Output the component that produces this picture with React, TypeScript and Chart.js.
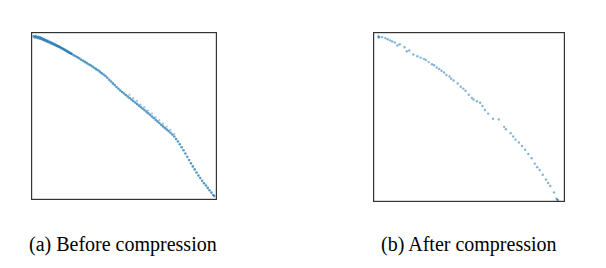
import React, { useEffect, useRef } from "react";
import { Chart, registerables } from "chart.js";

Chart.register(...registerables);

// Panel (a): before compression — normalized objective values (x, y)
const beforeX: number[] = [
  0.015, 0.02, 0.025, 0.03, 0.035, 0.04, 0.045, 0.05, 0.055, 0.06, 0.065, 0.07, 0.075, 0.08, 0.085, 0.09, 0.095, 0.1,
  0.105, 0.11, 0.115, 0.12, 0.125, 0.13, 0.135, 0.14, 0.145, 0.15, 0.155, 0.16, 0.165, 0.17, 0.175, 0.18, 0.185, 0.19,
  0.195, 0.2, 0.205, 0.21, 0.215, 0.22, 0.23, 0.24, 0.25, 0.26, 0.27, 0.28, 0.29, 0.3, 0.31, 0.32, 0.33, 0.34, 0.35,
  0.36, 0.37, 0.38, 0.39, 0.4, 0.41, 0.42, 0.43, 0.44, 0.45, 0.46, 0.47, 0.48, 0.49, 0.5, 0.51, 0.52, 0.53, 0.54, 0.55,
  0.56, 0.57, 0.58, 0.59, 0.6, 0.61, 0.62, 0.63, 0.64, 0.65, 0.66, 0.67, 0.68, 0.69, 0.7, 0.71, 0.72, 0.73, 0.74, 0.75,
  0.76, 0.77, 0.78, 0.79, 0.8, 0.81, 0.82, 0.83, 0.84, 0.85, 0.86, 0.87, 0.88, 0.89, 0.9, 0.91, 0.92, 0.93, 0.94, 0.95,
  0.96, 0.97, 0.98, 0.985,
];
const beforeY: number[] = [
  0.975, 0.968, 0.976, 0.97, 0.964, 0.972, 0.962, 0.968, 0.958, 0.963, 0.953, 0.958, 0.948, 0.952, 0.944, 0.947, 0.939,
  0.942, 0.934, 0.937, 0.929, 0.931, 0.924, 0.926, 0.919, 0.92, 0.914, 0.915, 0.909, 0.908, 0.903, 0.902, 0.897, 0.895,
  0.89, 0.889, 0.884, 0.882, 0.877, 0.876, 0.871, 0.869, 0.862, 0.856, 0.849, 0.843, 0.835, 0.829, 0.822, 0.815, 0.808,
  0.802, 0.795, 0.787, 0.779, 0.772, 0.764, 0.755, 0.747, 0.738, 0.728, 0.716, 0.705, 0.694, 0.684, 0.673, 0.662, 0.652,
  0.643, 0.634, 0.625, 0.616, 0.607, 0.598, 0.589, 0.58, 0.571, 0.562, 0.553, 0.544, 0.535, 0.526, 0.516, 0.507, 0.497,
  0.488, 0.478, 0.468, 0.458, 0.448, 0.438, 0.428, 0.419, 0.41, 0.4, 0.39, 0.378, 0.363, 0.348, 0.332, 0.314, 0.296,
  0.277, 0.257, 0.238, 0.219, 0.2, 0.182, 0.164, 0.146, 0.131, 0.115, 0.1, 0.086, 0.072, 0.058, 0.044, 0.03, 0.024,
];
// faint scattered points just above the main front in panel (a)
const beforeSpreadX: number[] = [0.53, 0.55, 0.57, 0.59, 0.61, 0.63, 0.65, 0.67, 0.69, 0.71, 0.73, 0.75, 0.77];
const beforeSpreadY: number[] = [0.627, 0.606, 0.59, 0.568, 0.553, 0.532, 0.515, 0.493, 0.476, 0.455, 0.437, 0.418, 0.393];

// Panel (b): after compression
const afterX: number[] = [
  0.028, 0.032, 0.03, 0.047, 0.064, 0.089, 0.114, 0.139, 0.164, 0.189, 0.231, 0.248, 0.265, 0.29, 0.307, 0.332, 0.357,
  0.382, 0.399, 0.407, 0.441, 0.457, 0.482, 0.499, 0.524, 0.541, 0.558, 0.583, 0.625, 0.655, 0.683, 0.692, 0.717, 0.742,
  0.776, 0.792, 0.809, 0.826, 0.843, 0.868, 0.884, 0.901, 0.923, 0.943, 0.956, 0.963, 0.96,
  0.076, 0.1, 0.127, 0.176, 0.21, 0.275, 0.318, 0.345, 0.37, 0.42, 0.47, 0.515, 0.57, 0.6, 0.73, 0.76, 0.855, 0.912,
];
const afterY: number[] = [
  0.975, 0.97, 0.968, 0.97, 0.964, 0.951, 0.938, 0.928, 0.91, 0.891, 0.857, 0.849, 0.842, 0.823, 0.81, 0.791, 0.772,
  0.747, 0.738, 0.725, 0.697, 0.678, 0.654, 0.631, 0.603, 0.593, 0.584, 0.541, 0.49, 0.486, 0.442, 0.428, 0.405, 0.367,
  0.329, 0.307, 0.282, 0.258, 0.226, 0.188, 0.16, 0.132, 0.094, 0.056, 0.019, 0.01, 0.014,
  0.957, 0.944, 0.921, 0.887, 0.868, 0.835, 0.804, 0.783, 0.762, 0.715, 0.667, 0.612, 0.565, 0.52, 0.385, 0.35, 0.205, 0.112,
];

const captions: string[] = ["(a) Before compression", "(b) After compression"];

const framePlugin = {
  id: "frame",
  afterDraw(chart: any) {
    const { ctx, chartArea } = chart;
    ctx.save();
    ctx.strokeStyle = "#333333";
    ctx.lineWidth = 1.2;
    ctx.strokeRect(
      chartArea.left + 0.6,
      chartArea.top + 0.6,
      chartArea.right - chartArea.left - 1.2,
      chartArea.bottom - chartArea.top - 1.2
    );
    ctx.restore();
  },
};

type Series = { xs: number[]; ys: number[]; color: string; r: number };

function Panel(props: { series: Series[]; w: number; h: number }) {
  const ref = useRef<HTMLCanvasElement | null>(null);
  useEffect(() => {
    if (!ref.current) return;
    const chart = new Chart(ref.current, {
      type: "scatter",
      data: {
        datasets: props.series.map((s) => ({
          data: s.xs.map((x, i) => ({ x, y: s.ys[i] })),
          backgroundColor: s.color,
          borderWidth: 0,
          pointRadius: s.r,
        })),
      },
      options: {
        animation: false,
        responsive: false,
        layout: { padding: 0 },
        plugins: { legend: { display: false }, tooltip: { enabled: false } },
        scales: {
          x: { type: "linear", min: 0, max: 1, display: false },
          y: { type: "linear", min: 0, max: 1, display: false },
        },
      },
      plugins: [framePlugin],
    });
    return () => chart.destroy();
  }, []);
  return <canvas ref={ref} width={props.w} height={props.h} style={{ width: props.w, height: props.h, display: "block" }} />;
}

export default function App() {
  const capStyle: React.CSSProperties = {
    position: "absolute",
    fontFamily: "'Liberation Serif', 'Times New Roman', serif",
    fontSize: 20,
    lineHeight: "20px",
    color: "#000",
    whiteSpace: "nowrap",
  };
  return (
    <div style={{ position: "absolute", left: 0, top: 0, width: 606, height: 268, background: "#fff", overflow: "hidden" }}>
      <div style={{ position: "absolute", left: 27, top: 28 }}>
        <Panel
          w={194}
          h={176}
          series={[
            { xs: beforeX, ys: beforeY, color: "rgba(31,119,180,0.75)", r: 1.3 },
            { xs: beforeSpreadX, ys: beforeSpreadY, color: "rgba(31,119,180,0.4)", r: 1.1 },
          ]}
        />
      </div>
      <div style={{ position: "absolute", left: 369, top: 28 }}>
        <Panel w={200} h={178} series={[{ xs: afterX, ys: afterY, color: "rgba(31,119,180,0.55)", r: 1.2 }]} />
      </div>
      <div style={{ ...capStyle, left: 29, top: 234 }}>{captions[0]}</div>
      <div style={{ ...capStyle, left: 381, top: 234 }}>{captions[1]}</div>
    </div>
  );
}
